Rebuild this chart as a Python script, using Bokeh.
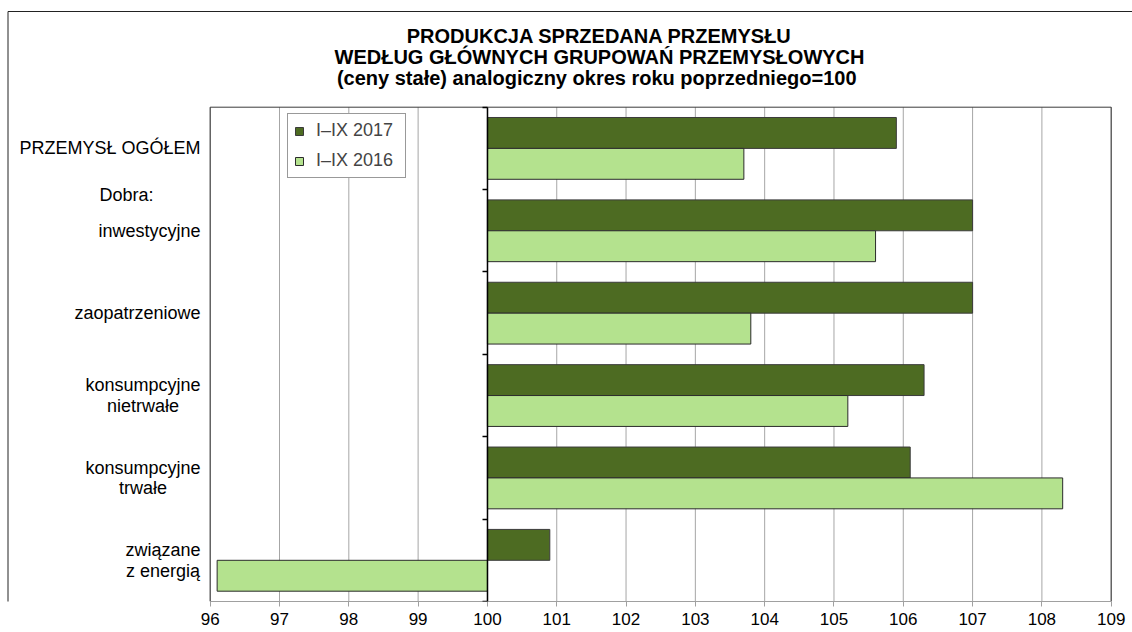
import numpy as np
from bokeh.plotting import figure
from bokeh.models import Range1d, FixedTicker, LinearAxis, Label
from bokeh.embed import file_html
from bokeh.resources import INLINE

# ---------------- data ----------------
categories = ["PRZEMYSŁ OGÓŁEM", "inwestycyjne", "zaopatrzeniowe",
              "konsumpcyjne\nnietrwałe", "konsumpcyjne\ntrwałe", "związane\nz energią"]
series_names = ["I–IX 2017", "I–IX 2016"]
values_2017 = [105.9, 107.0, 107.0, 106.3, 106.1, 100.9]
values_2016 = [103.7, 105.6, 103.8, 105.2, 108.3, 96.1]
x_ticks = [96, 97, 98, 99, 100, 101, 102, 103, 104, 105, 106, 107, 108, 109]
base_value = 100
group_label = "Dobra:"
title_lines = ["PRODUKCJA SPRZEDANA PRZEMYSŁU",
               "WEDŁUG GŁÓWNYCH GRUPOWAŃ PRZEMYSŁOWYCH",
               "(ceny stałe)  analogiczny okres roku poprzedniego=100"]

# ---------------- style / layout ----------------
FONT = "Liberation Sans"
DARK = "#4d6b22"
LIGHT = "#b4e28e"
W, H = 1132, 632
MB = 31                      # space for x tick labels
FRAME_H = H - MB             # frame covers canvas above the tick labels
PX_LEFT, PX_RIGHT, PX_TOP = 209.7, 1110.7, 106.7   # inner plot area in pixels
BORDER_X, BORDER_Y = 7.5, 11.0                     # outer chart border in pixels
LABEL_SIZE = 18

n_cat = len(categories)
x0, x1 = x_ticks[0], x_ticks[-1]
ppx = (PX_RIGHT - PX_LEFT) / (x1 - x0)
ppy = (FRAME_H - PX_TOP) / n_cat
x_range = Range1d(x0 - PX_LEFT / ppx, x1 + (W - PX_RIGHT) / ppx)
y_range = Range1d(n_cat, -PX_TOP / ppy)

# Arial/Liberation Sans advance widths (per 1000 em) for centring multi-line labels
_AW = {"a": 556, "b": 556, "c": 500, "d": 556, "e": 556, "g": 556, "i": 222, "j": 222,
       "k": 500, "l": 222, "m": 833, "n": 556, "o": 556, "p": 556, "r": 333, "s": 500,
       "t": 278, "u": 556, "w": 722, "y": 500, "z": 500, "ą": 556, "ę": 556, "ł": 222,
       " ": 278, ":": 278}


def text_w(s, size):
    return sum(_AW.get(ch, 667) for ch in s) * size / 1000.0


p = figure(width=W, height=H, x_range=x_range, y_range=y_range,
           output_backend="svg", toolbar_location=None,
           y_axis_location=None,
           min_border_left=0, min_border_right=0, min_border_top=0, min_border_bottom=MB,
           background_fill_color="white", border_fill_color="white")
p.outline_line_color = None
p.grid.grid_line_color = None

# outer chart border (left and top edges; right/bottom lie outside the picture)
bx = x_range.start + BORDER_X / ppx
by = y_range.end + BORDER_Y / ppy
p.segment(x0=[bx, bx], y0=[by, by], x1=[bx, x_range.end + 1], y1=[n_cat + 1, by],
          line_color="#222222", line_width=1)

# vertical gridlines of the inner plot area
p.segment(x0=x_ticks, y0=[0] * len(x_ticks), x1=x_ticks, y1=[n_cat] * len(x_ticks),
          line_color="#a6a6a6", line_width=1)
# inner plot frame
p.quad(left=[x0], right=[x1], top=[0], bottom=[n_cat], fill_color=None,
       line_color="#3a3a3a", line_width=1)

# x axis (bottom)
xa = p.xaxis[0]
xa.ticker = FixedTicker(ticks=x_ticks)
xa.bounds = (x0, x1)
xa.axis_line_color = "#a0a0a0"
xa.major_tick_line_color = "#a0a0a0"
xa.major_tick_in = 0
xa.major_tick_out = 5
xa.minor_tick_line_color = None
xa.major_label_text_font = FONT
xa.major_label_text_font_size = "17px"
xa.major_label_text_color = "black"
xa.major_label_standoff = 6

# bars
idx = np.arange(n_cat)
bar_h = 0.375
p.hbar(y=idx + 0.5 - bar_h / 2, left=base_value, right=values_2017, height=bar_h,
       fill_color=DARK, line_color="#3b3b3b", line_width=1, legend_label=series_names[0])
p.hbar(y=idx + 0.5 + bar_h / 2, left=base_value, right=values_2016, height=bar_h,
       fill_color=LIGHT, line_color="#2b2b2b", line_width=1, legend_label=series_names[1])

# category axis crossing at 100 (ticks pointing left)
cat_ticks = list(range(n_cat + 1))
cat_axis = LinearAxis(fixed_location=base_value, ticker=FixedTicker(ticks=cat_ticks),
                      bounds=(0, n_cat),
                      major_label_overrides={t: "" for t in cat_ticks},
                      major_label_standoff=0,
                      major_tick_in=5, major_tick_out=0,
                      minor_tick_line_color=None,
                      axis_line_color="black", axis_line_width=1.5,
                      major_tick_line_color="black", major_tick_line_width=1.5)
p.add_layout(cat_axis, "right")

# category labels (left)
RIGHT_EDGE = 200
line_step = 20.5 / ppy
for i, cat in enumerate(categories):
    lines = cat.split("\n")
    n = len(lines)
    if n == 1:
        p.add_layout(Label(x=RIGHT_EDGE, y=i + 0.5, x_units="screen", y_units="data",
                           text=cat, text_align="right", text_baseline="middle",
                           text_font=FONT, text_font_size=f"{LABEL_SIZE}px",
                           text_color="black"))
    else:
        wmax = max(text_w(s, LABEL_SIZE) for s in lines)
        cx = RIGHT_EDGE - wmax / 2.0
        for k, s in enumerate(lines):
            yy = i + 0.5 + (k - (n - 1) / 2.0) * line_step
            p.add_layout(Label(x=cx, y=yy, x_units="screen", y_units="data",
                               text=s, text_align="center", text_baseline="middle",
                               text_font=FONT, text_font_size=f"{LABEL_SIZE}px",
                               text_color="black"))

p.add_layout(Label(x=153, y=1.06, x_units="screen", y_units="data",
                   text=group_label, text_align="right", text_baseline="middle",
                   text_font=FONT, text_font_size=f"{LABEL_SIZE}px", text_color="black"))

# title (three lines)
for t, base_y in zip(title_lines, [35.0, 56.0, 77.0]):
    p.add_layout(Label(x=599, y=FRAME_H - base_y, x_units="screen", y_units="screen",
                       text=t, text_align="center", text_baseline="alphabetic",
                       text_font=FONT, text_font_size="20px", text_font_style="bold",
                       text_color="black"))

# legend
lg = p.legend[0]
lg.location = (287, FRAME_H - 178)
lg.border_line_color = "#333333"
lg.border_line_width = 1
lg.background_fill_color = "white"
lg.background_fill_alpha = 1
lg.padding = 6
lg.spacing = 9
lg.margin = 0
lg.label_height = 21
lg.label_width = 83
lg.glyph_width = 10
lg.glyph_height = 10
lg.label_standoff = 12
lg.label_text_font = FONT
lg.label_text_font_size = "18px"

open("out.html", "w").write(file_html(p, INLINE))
